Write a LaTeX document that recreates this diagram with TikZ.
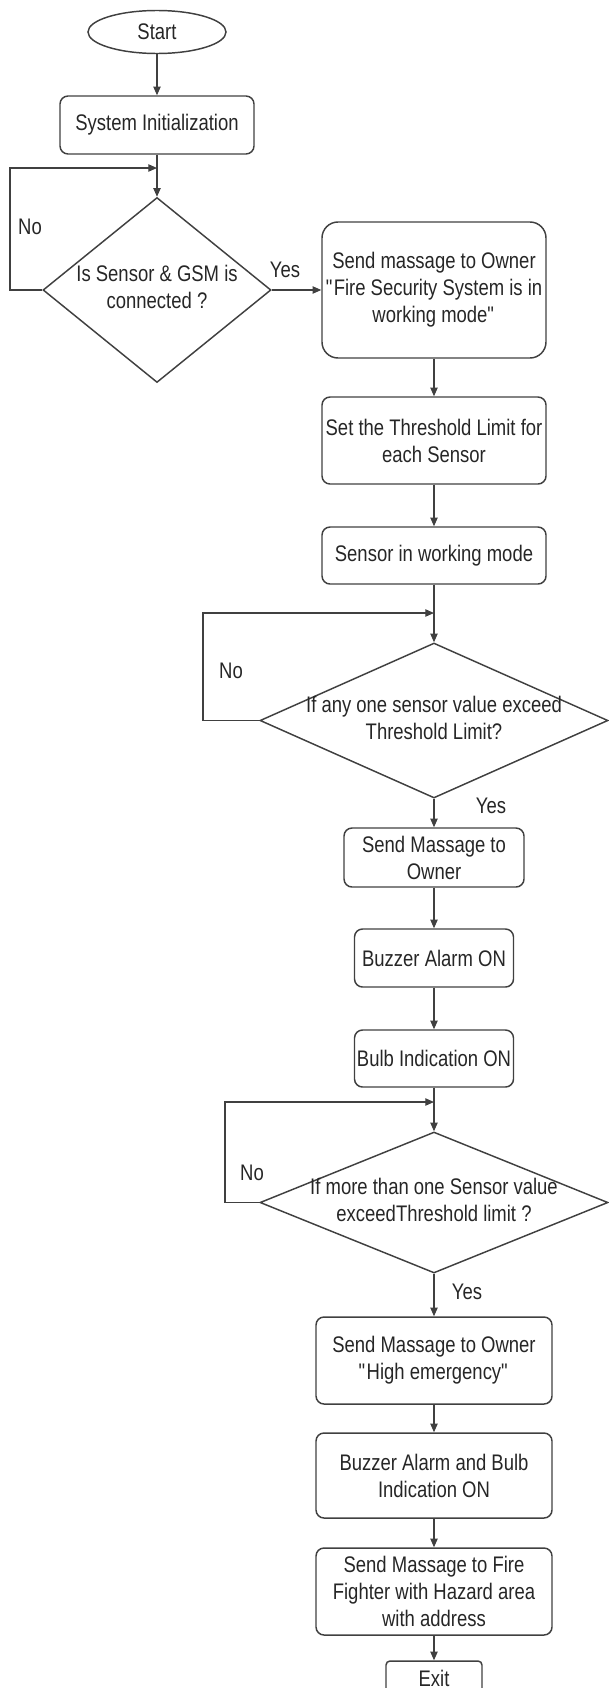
\documentclass[tikz,border=0pt]{standalone}
\usepackage{fontspec}
\setmainfont{Liberation Sans}[FakeStretch=0.82]
\usetikzlibrary{shapes.geometric,arrows.meta}

\tikzset{
  terminal/.style={ellipse, draw=black!75, line width=1.1pt, inner sep=0pt},
  process/.style={rectangle, rounded corners=6pt, draw=black!75, line width=1.1pt, align=center, inner sep=1pt},
  decision/.style={diamond, draw=black!75, line width=1.1pt, inner sep=0pt},
  flow/.style={draw=black!75, line width=0.9pt, -{Triangle[length=6.5pt,width=5.5pt]}},
  lbl/.style={inner sep=0pt}
}
\newcommand{\dectext}[1]{\makebox[0pt]{\raisebox{-0.25em}[0pt][0pt]{\begin{tabular}{@{}c@{}}#1\end{tabular}}}}

\begin{document}
\begin{tikzpicture}[x=0.75pt,y=0.75pt,yscale=-1,font=\fontsize{16.9pt}{20.25pt}\selectfont,text=black!85]
\useasboundingbox (0,0) rectangle (609,1688);

%Shape: Start / check of sensor and GSM
\node[terminal, minimum width=103.5pt, minimum height=32.25pt] (start) at (157,32) {Start};
\node[process, minimum width=145.5pt, minimum height=43.5pt] (init) at (157,125) {System Initialization};
\node[decision, minimum width=171pt, minimum height=138.75pt] (dec1) at (157,290) {\dectext{Is Sensor \& GSM is\\connected ?}};
\coordinate (j1) at (157,168);
\coordinate (l1) at (10,168);

%Shape: Right column
\node[process, rounded corners=12pt, minimum width=168pt, minimum height=102pt] (send1) at (434,290) {Send massage to Owner\\\textquotedbl Fire Security System is in\\working mode\textquotedbl};
\node[process, minimum width=168pt, minimum height=65.25pt] (thresh) at (434,440.5) {Set the Threshold Limit for\\each Sensor};
\node[process, minimum width=168pt, minimum height=42.75pt] (sensor) at (434,555.5) {Sensor in working mode};
\node[decision, minimum width=261pt, minimum height=116.25pt] (dec2) at (434,720.5) {\dectext{If any one sensor value exceed\\Threshold Limit?}};
\coordinate (j2) at (434,613);
\coordinate (l2) at (203,613);

\node[process, minimum width=135pt, minimum height=44.25pt] (send2) at (434,857.5) {Send Massage to\\Owner};
\node[process, minimum width=119.25pt, minimum height=43.5pt] (buzz) at (434,958) {Buzzer Alarm ON};
\node[process, minimum width=119.25pt, minimum height=42.75pt] (bulb) at (434,1058.5) {Bulb Indication ON};
\node[decision, minimum width=261pt, minimum height=105.75pt] (dec3) at (434,1202.5) {\dectext{If more than one Sensor value\\exceedThreshold limit ?}};
\coordinate (j3) at (434,1102);
\coordinate (l3) at (225,1102);

\node[process, minimum width=177pt, minimum height=65.25pt] (send3) at (434,1360.5) {Send Massage to Owner\\\textquotedbl High emergency\textquotedbl};
\node[process, minimum width=177pt, minimum height=63.75pt] (both) at (434,1475.5) {Buzzer Alarm and Bulb\\Indication ON};
\node[process, minimum width=177pt, minimum height=65.25pt] (fire) at (434,1591.5) {Send Massage to Fire\\Fighter with Hazard area\\with address};
\node[process, rounded corners=3pt, minimum width=72pt, minimum height=25.5pt] (exit) at (434,1678) {Exit};

%Straight Lines
\draw[flow] (start) -- (init);
\draw[flow] (init) -- (dec1);
\draw[flow] (dec1.west) -| (l1) -- (j1);
\draw[flow] (dec1) -- (send1);
\draw[flow] (send1) -- (thresh);
\draw[flow] (thresh) -- (sensor);
\draw[flow] (sensor) -- (dec2);
\draw[flow] (dec2.west) -| (l2) -- (j2);
\draw[flow] (dec2) -- (send2);
\draw[flow] (send2) -- (buzz);
\draw[flow] (buzz) -- (bulb);
\draw[flow] (bulb) -- (dec3);
\draw[flow] (dec3.west) -| (l3) -- (j3);
\draw[flow] (dec3) -- (send3);
\draw[flow] (send3) -- (both);
\draw[flow] (both) -- (fire);
\draw[flow] (fire) -- (exit);

% Text Node
\node[lbl] (no1) at (30,227) {No};
\node[lbl] (yes1) at (285,270) {Yes};
\node[lbl] (no2) at (231,671) {No};
\node[lbl] (yes2) at (491,806) {Yes};
\node[lbl] (no3) at (252,1173) {No};
\node[lbl] (yes3) at (467,1292) {Yes};

\end{tikzpicture}
\end{document}
